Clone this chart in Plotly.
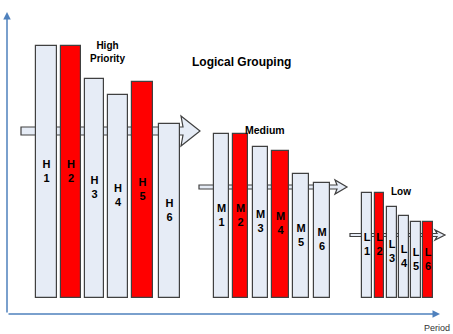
import plotly.graph_objects as go

# Priority groups: bar names, heights, colour flags and horizontal placement
high_names = ["H<br>1", "H<br>2", "H<br>3", "H<br>4", "H<br>5", "H<br>6"]
high_values = [252, 252, 219, 203, 216, 174]
high_red = [False, True, False, False, True, False]
high_x = [46.5, 71, 94.5, 118, 142.5, 169.5]
high_w = [21, 20, 19, 20, 21, 21]

medium_names = ["M<br>1", "M<br>2", "M<br>3", "M<br>4", "M<br>5", "M<br>6"]
medium_values = [164, 164, 151, 147, 124, 115]
medium_red = [False, True, False, True, False, False]
medium_x = [221.5, 240.5, 260.5, 280.5, 301, 322]
medium_w = [15, 15, 15, 17, 16, 16]

low_names = ["L<br>1", "L<br>2", "L<br>3", "L<br>4", "L<br>5", "L<br>6"]
low_values = [105, 105, 91, 82, 76, 76]
low_red = [False, True, False, False, False, True]
low_x = [367, 379.5, 392, 404, 416, 428]
low_w = [10, 9, 10, 10, 10, 10]

group_titles = ["High<br>Priority", "Medium", "Low"]

LIGHT = "#E6ECF6"
RED = "#FF0000"
EDGE = "#404040"
BLUE = "#4F81BD"

groups = [
    dict(names=high_names, values=high_values, red=high_red, x=high_x, w=high_w,
         arrow=dict(pad0=15, pad1=20, level=167, shaft=4, head_len=17, head_half=15),
         title=dict(x=107, y=246, size=10)),
    dict(names=medium_names, values=medium_values, red=medium_red, x=medium_x, w=medium_w,
         arrow=dict(pad0=15, pad1=17, level=111, shaft=2, head_len=10, head_half=7),
         title=dict(x=265, y=168, size=10.5)),
    dict(names=low_names, values=low_values, red=low_red, x=low_x, w=low_w,
         arrow=dict(pad0=12, pad1=12, level=63, shaft=1.5, head_len=8, head_half=5),
         title=dict(x=401, y=107, size=10)),
]

fig = go.Figure()
shapes = []
annotations = []

for g in groups:
    colors = [RED if r else LIGHT for r in g["red"]]
    fig.add_trace(go.Bar(
        x=g["x"], y=g["values"], width=g["w"], base=0,
        marker=dict(color=colors, line=dict(color=EDGE, width=1.2)),
        hoverinfo="skip", showlegend=False,
    ))
    fig.add_trace(go.Scatter(
        x=g["x"], y=[v / 2 for v in g["values"]], mode="text",
        text=[f"<b>{n}</b>" for n in g["names"]], textposition="middle center",
        textfont=dict(family="Liberation Sans", size=11, color="#000000"),
        hoverinfo="skip", showlegend=False, cliponaxis=False,
    ))
    # block arrow running through the group
    a = g["arrow"]
    left = g["x"][0] - g["w"][0] / 2 - a["pad0"]
    right = g["x"][-1] + g["w"][-1] / 2 + a["pad1"]
    yc, s, hl, hh = a["level"], a["shaft"], a["head_len"], a["head_half"]
    hb = right - hl
    path = (f"M {left},{yc - s} L {hb},{yc - s} L {hb - 2},{yc - hh} L {right},{yc} "
            f"L {hb - 2},{yc + hh} L {hb},{yc + s} L {left},{yc + s} Z")
    shapes.append(dict(type="path", path=path, xref="x", yref="y", layer="below",
                       fillcolor=LIGHT, line=dict(color=EDGE, width=1.2)))

for g, title in zip(groups, group_titles):
    t = g["title"]
    annotations.append(dict(x=t["x"], y=t["y"], xref="x", yref="y", text=f"<b>{title}</b>",
                            showarrow=False, font=dict(family="Liberation Sans", size=t["size"],
                                                       color="#000000")))

annotations.append(dict(x=190, y=236, xref="x", yref="y", xanchor="left",
                        text="<b>Logical Grouping</b>", showarrow=False,
                        font=dict(family="Liberation Sans", size=12, color="#000000")))

# coordinate axes drawn as arrows
annotations.append(dict(x=7, y=286, ax=7, ay=-16, xref="x", yref="y", axref="x", ayref="y",
                        text="", showarrow=True, arrowhead=2, arrowsize=1, arrowwidth=1.5,
                        arrowcolor=BLUE))
annotations.append(dict(x=440, y=-16, ax=7, ay=-16, xref="x", yref="y", axref="x", ayref="y",
                        text="", showarrow=True, arrowhead=2, arrowsize=1, arrowwidth=1.5,
                        arrowcolor=BLUE))
annotations.append(dict(x=452, y=-30, xref="x", yref="y", xanchor="right", text="Period",
                        showarrow=False, font=dict(family="Liberation Sans", size=9,
                                                   color="#333333")))

fig.update_layout(
    width=453, height=334,
    margin=dict(l=0, r=0, t=0, b=0),
    paper_bgcolor="white", plot_bgcolor="white",
    barmode="overlay", bargap=0,
    xaxis=dict(range=[0, 453], visible=False, fixedrange=True),
    yaxis=dict(range=[-36, 298], visible=False, fixedrange=True),
    shapes=shapes, annotations=annotations,
    showlegend=False,
)

fig.write_html("out.html")
